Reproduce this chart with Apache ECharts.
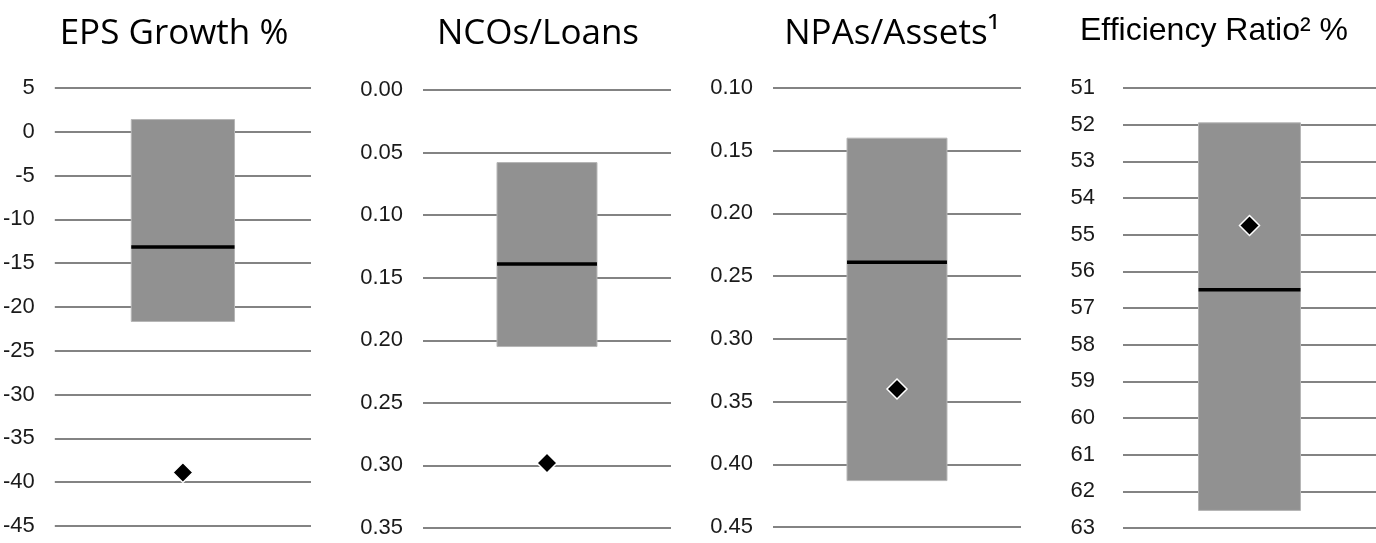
<!DOCTYPE html>
<html>
<head>
<meta charset="utf-8">
<script src="https://cdn.jsdelivr.net/npm/echarts@6/dist/echarts.min.js"></script>
<style>
html,body{margin:0;padding:0;background:#fff;}
#chart{width:1376px;height:543px;}
</style>
</head>
<body>
<div id="chart"></div>
<script>
// ---- data ----
const titles = ['EPS Growth %', 'NCOs/Loans', 'NPAs/Assets¹', 'Efficiency Ratio² %'];
const axisMin = [-45, 0, 0.10, 51];
const axisMax = [5, 0.35, 0.45, 63];
const axisStep = [5, 0.05, 0.05, 1];
const axisDecimals = [0, 2, 2, 0];
const axisInverse = [false, true, true, true];
const rangeBest = [1.4, 0.058, 0.140, 51.95];
const rangeWorst = [-21.65, 0.205, 0.413, 62.52];
const medians = [-13.15, 0.139, 0.239, 56.5];
const markers = [-38.9, 0.298, 0.340, 54.75];

// ---- layout / style ----
const grids = [
  {left: 53, top: 88, width: 258, height: 438},
  {left: 423, top: 90, width: 248, height: 438},
  {left: 773, top: 88, width: 248, height: 439},
  {left: 1123, top: 88, width: 253, height: 440}
];
const labelMargins = [20, 20, 20, 28];
const titleCenters = [174, 538, 892, 1214];
const titleFonts = [
  {fontFamily: 'Open Sans', fontSize: 35, top: 17},
  {fontFamily: 'Open Sans', fontSize: 35, top: 17},
  {fontFamily: 'Open Sans', fontSize: 35, top: 17},
  {fontFamily: 'Liberation Sans', fontSize: 32, top: 15}
];

const chart = echarts.init(document.getElementById('chart'), null, {renderer: 'canvas'});

const option = {
  animation: false,
  backgroundColor: '#ffffff',
  title: titles.map((t, i) => ({
    text: t,
    left: titleCenters[i],
    top: titleFonts[i].top,
    textAlign: 'center',
    padding: 0,
    textStyle: {
      fontFamily: titleFonts[i].fontFamily,
      fontSize: titleFonts[i].fontSize,
      fontWeight: 'normal',
      color: '#000'
    }
  })),
  grid: grids.map(g => Object.assign({containLabel: false}, g)),
  xAxis: grids.map((g, i) => ({
    type: 'category',
    gridIndex: i,
    data: [''],
    axisLine: {show: false},
    axisTick: {show: false},
    axisLabel: {show: false},
    splitLine: {show: false}
  })),
  yAxis: grids.map((g, i) => ({
    type: 'value',
    gridIndex: i,
    min: axisMin[i],
    max: axisMax[i],
    interval: axisStep[i],
    inverse: axisInverse[i],
    axisLine: {show: false},
    axisTick: {show: false},
    axisLabel: {
      margin: labelMargins[i],
      fontFamily: 'Liberation Sans',
      fontSize: 22,
      color: '#1a1a1a',
      formatter: v => Number(v).toFixed(axisDecimals[i])
    },
    splitLine: {show: true, lineStyle: {color: '#838383', width: 2}}
  })),
  series: []
};

for (let i = 0; i < 4; i++) {
  option.series.push({
    type: 'custom',
    xAxisIndex: i,
    yAxisIndex: i,
    z: 2,
    data: [[0, rangeBest[i], rangeWorst[i], medians[i]]],
    renderItem: (params, api) => {
      const p1 = api.coord([api.value(0), api.value(1)]);
      const p2 = api.coord([api.value(0), api.value(2)]);
      const pm = api.coord([api.value(0), api.value(3)]);
      const w = api.size([1, 0])[0] * 0.403;
      const y0 = Math.min(p1[1], p2[1]);
      const h = Math.abs(p2[1] - p1[1]);
      return {
        type: 'group',
        children: [
          {type: 'rect', shape: {x: p1[0] - w / 2, y: y0, width: w, height: h},
           style: {fill: '#919191', stroke: '#b5b5b5', lineWidth: 1}},
          {type: 'line', shape: {x1: p1[0] - w / 2, y1: pm[1], x2: p1[0] + w / 2, y2: pm[1]},
           style: {stroke: '#000', lineWidth: 3.5}}
        ]
      };
    }
  });
  option.series.push({
    type: 'scatter',
    xAxisIndex: i,
    yAxisIndex: i,
    z: 5,
    symbol: 'diamond',
    symbolSize: 20,
    itemStyle: {color: '#000', borderColor: '#fff', borderWidth: 1.5, opacity: 1},
    data: [[0, markers[i]]]
  });
}

chart.setOption(option);
</script>
</body>
</html>
